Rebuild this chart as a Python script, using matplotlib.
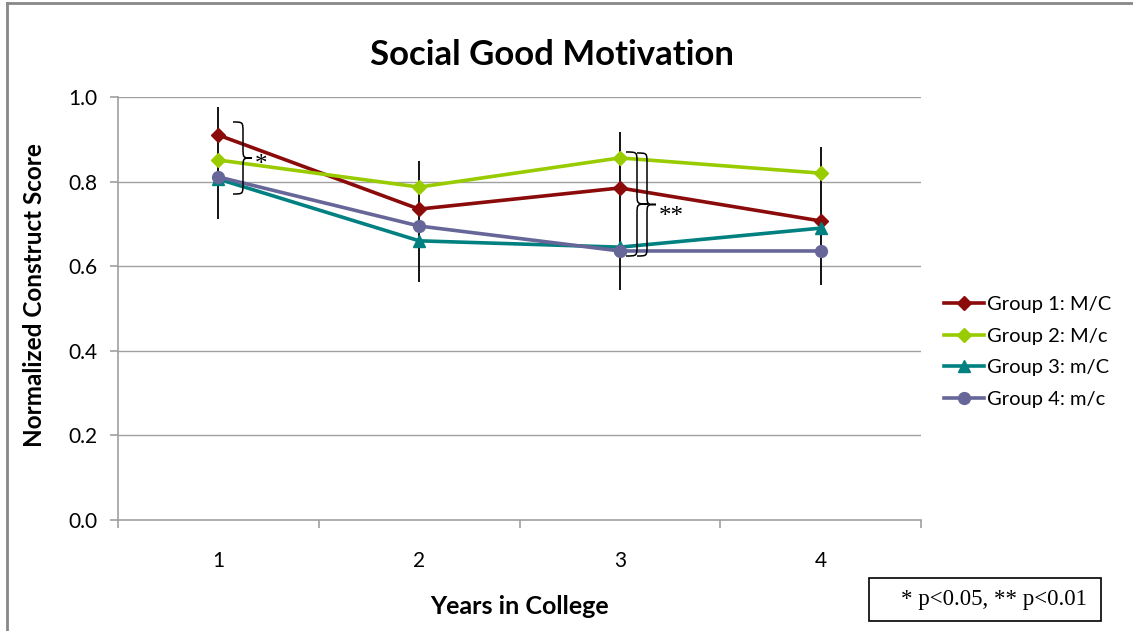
import matplotlib
matplotlib.use("Agg")
import matplotlib.pyplot as plt
from matplotlib.path import Path
from matplotlib.patches import PathPatch, Rectangle
from matplotlib.lines import Line2D

# ---- data ----
years = [1, 2, 3, 4]
year_labels = ["1", "2", "3", "4"]
group_names = ["Group 1: M/C", "Group 2: M/c", "Group 3: m/C", "Group 4: m/c"]
group1 = [0.910, 0.735, 0.785, 0.707]
group2 = [0.851, 0.787, 0.856, 0.820]
group3 = [0.806, 0.660, 0.645, 0.690]
group4 = [0.811, 0.695, 0.636, 0.636]
err_low = [0.712, 0.563, 0.544, 0.556]
err_high = [0.976, 0.849, 0.917, 0.882]
y_ticks = [0.0, 0.2, 0.4, 0.6, 0.8, 1.0]

colors = ["#8B0A0A", "#99CC00", "#008080", "#666699"]
markers = ["D", "D", "^", "o"]
msizes = [7, 7, 8.5, 8.5]

plt.rcParams["font.family"] = ["Lato", "DejaVu Sans"]

fig = plt.figure(figsize=(11.33, 6.31), dpi=100)
ax = fig.add_axes([118 / 1133, 1 - 520 / 631, (921 - 118) / 1133, (520 - 97) / 631])

# frame lines around the chart area
fig.add_artist(Line2D([7 / 1133, 7 / 1133], [0, 1 - 3 / 631], color="#888888", lw=2.0,
                      transform=fig.transFigure))
fig.add_artist(Line2D([7 / 1133, 1], [1 - 3 / 631, 1 - 3 / 631], color="#888888", lw=2.0,
                      transform=fig.transFigure))

ax.set_xlim(0.5, 4.5)
ax.set_ylim(0, 1.0)

# gridlines
for yv in y_ticks[1:]:
    ax.axhline(yv, color="#A0A0A0", lw=1.0, zorder=0)

# error bars
ax.vlines(years, err_low, err_high, color="black", lw=1.3, zorder=2)

series = [group1, group2, group3, group4]
for vals, name, c, m, ms in zip(series, group_names, colors, markers, msizes):
    ax.plot(years, vals, color=c, lw=2.6, marker=m, markersize=ms, label=name,
            markeredgecolor=c, zorder=3)


def brace(ax, x0, xv, xt, ytop, ybot, r=0.025, lw=1.1):
    ymid = (ytop + ybot) / 2
    verts = [
        (x0, ytop),
        (xv, ytop), (xv, ytop), (xv, ytop - r),
        (xv, ymid + r),
        (xv, ymid), (xv, ymid), (xt, ymid),
        (xv, ymid), (xv, ymid), (xv, ymid - r),
        (xv, ybot + r),
        (xv, ybot), (xv, ybot), (x0, ybot),
    ]
    codes = [Path.MOVETO,
             Path.CURVE4, Path.CURVE4, Path.CURVE4,
             Path.LINETO,
             Path.CURVE4, Path.CURVE4, Path.CURVE4,
             Path.CURVE4, Path.CURVE4, Path.CURVE4,
             Path.LINETO,
             Path.CURVE4, Path.CURVE4, Path.CURVE4]
    ax.add_patch(PathPatch(Path(verts, codes), fill=False, color="black", lw=lw, zorder=4))


def px_x(p):
    return 0.5 + (p - 118) / 200.75


def px_y(p):
    return (520 - p) / 423


brace(ax, px_x(233), px_x(243), px_x(252), px_y(122), px_y(194))
brace(ax, px_x(626), px_x(637), px_x(648), px_y(152), px_y(256))
brace(ax, px_x(637), px_x(647), px_x(656), px_y(153), px_y(256))
ax.text(px_x(255), px_y(165), "*", family="Liberation Serif", fontsize=18,
        ha="left", va="center", zorder=5)
ax.text(px_x(659), px_y(217), "**", family="Liberation Serif", fontsize=18,
        ha="left", va="center", zorder=5)

# axes styling
for s in ["top", "right"]:
    ax.spines[s].set_visible(False)
for s in ["left", "bottom"]:
    ax.spines[s].set_color("#A0A0A0")
    ax.spines[s].set_linewidth(1.2)
ax.set_yticks(y_ticks)
ax.set_yticklabels([f"{v:.1f}" for v in y_ticks])
ax.tick_params(axis="y", length=6, color="#A0A0A0", width=1.2, pad=9, labelsize=15)
ax.set_xticks(years)
ax.set_xticklabels(year_labels)
ax.set_xticks([0.5, 1.5, 2.5, 3.5, 4.5], minor=True)
ax.tick_params(axis="x", which="major", length=0, pad=22, labelsize=15)
ax.tick_params(axis="x", which="minor", length=6, color="#A0A0A0", width=1.2)

fig.text(552 / 1133, 1 - 55 / 631, "Social Good Motivation", ha="center", va="center",
         fontsize=25, fontweight="bold")
fig.text(520 / 1133, 1 - 606 / 631, "Years in College", ha="center", va="center",
         fontsize=18, fontweight="bold")
fig.text(35 / 1133, 1 - 295 / 631, "Normalized Construct Score", ha="center", va="center",
         rotation=90, fontsize=17.5, fontweight="bold")

handles, labels = ax.get_legend_handles_labels()
fig.legend(handles, labels, loc="upper left", bbox_to_anchor=(936 / 1133, 1 - 288 / 631),
           frameon=False, fontsize=14.5, handlelength=2.0, handletextpad=0.15,
           labelspacing=0.72, borderaxespad=0)

# significance note box
fig.add_artist(Rectangle((869 / 1133, 1 - 621 / 631), (1101 - 869) / 1133, (621 - 578) / 631,
                         transform=fig.transFigure, fill=False, edgecolor="black", lw=1.2))
fig.text(994 / 1133, 1 - 600 / 631, "* p<0.05, ** p<0.01", ha="center", va="center",
         family="Liberation Serif", fontsize=16.5)

fig.savefig("out.png", dpi=100)
